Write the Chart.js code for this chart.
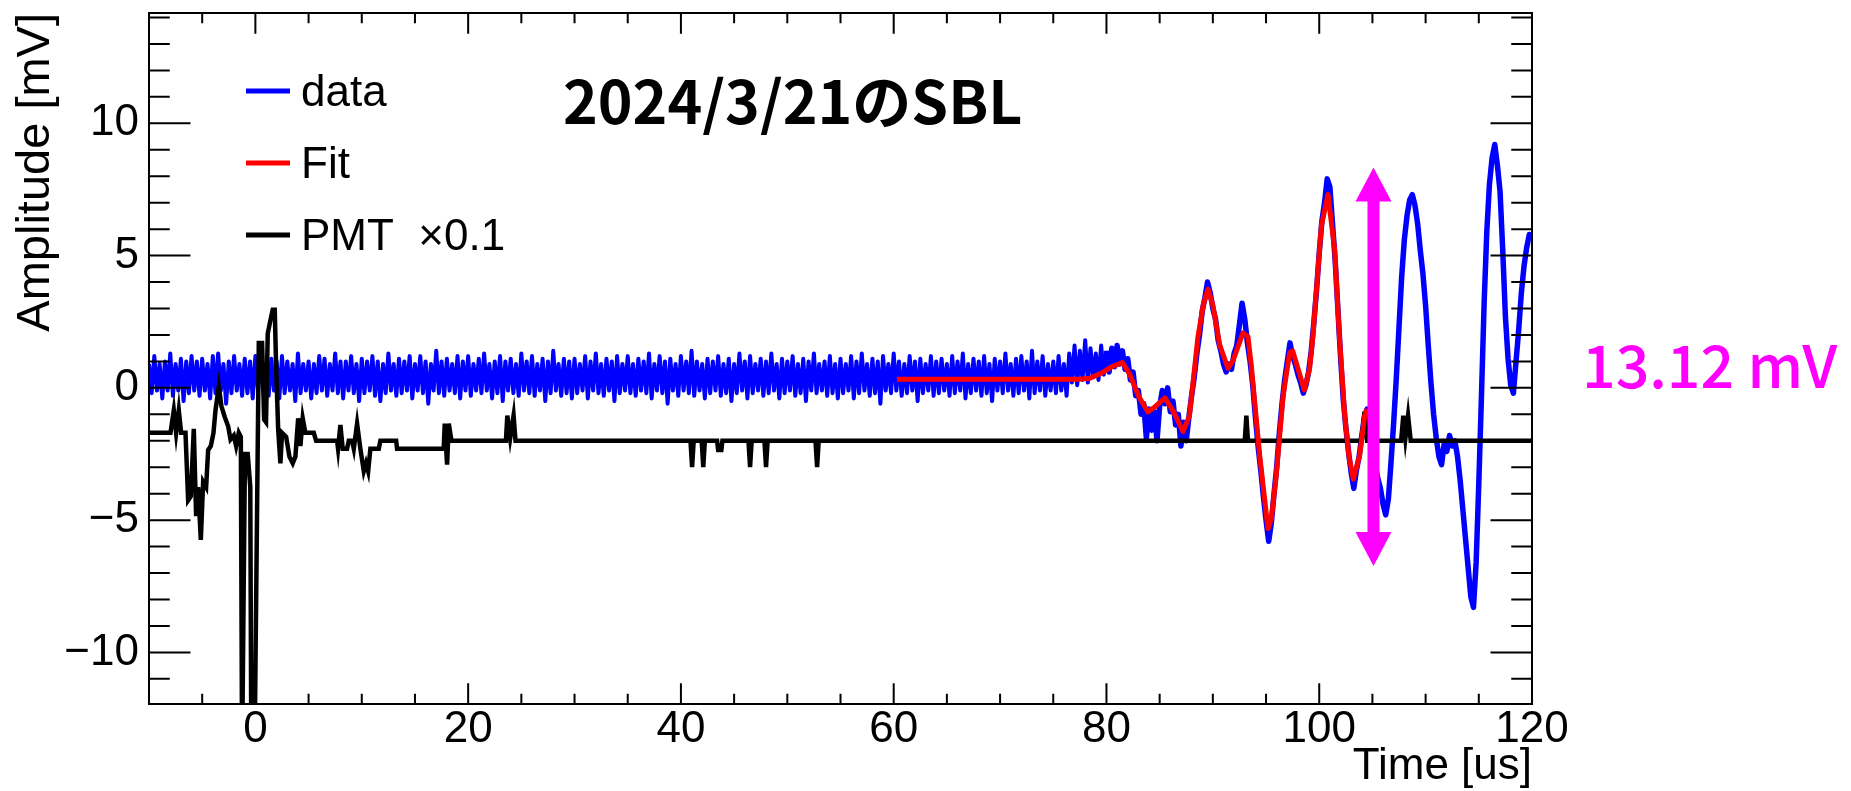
<!DOCTYPE html>
<html>
<head>
<meta charset="utf-8">
<title>2024/3/21のSBL</title>
<script src="https://cdn.jsdelivr.net/npm/chart.js@4.4.1/dist/chart.umd.min.js"></script>
<style>
  html, body { margin: 0; padding: 0; background: #fff; }
  #wrap { width: 1851px; height: 791px; }
</style>
</head>
<body>
<div id="wrap"><canvas id="sbl-chart" width="1851" height="791"></canvas></div>
<script>
// SBL waveform with fit and PMT trigger, 2024/3/21

const fontSans = '"Liberation Sans", Arial, Helvetica, sans-serif';
const fontJp = '"Noto Sans CJK JP", "Noto Sans CJK SC", sans-serif';

// Axis ranges and ticks
const xRange = [-10, 120];
const yRange = [-11.95, 14.17];
const xMajorTicks = [0, 20, 40, 60, 80, 100, 120];
const yMajorTicks = [-10, -5, 0, 5, 10];
const xMinorStep = 5;
const yMinorStep = 1;

// Blue trace, one sample every 0.25 us starting at -10 us
const dataStart = -10;
const dataStep = 0.25;
const dataAmp = [
    0.9,-0.2,1.2,-0.1,0.9,-0.4,1.0,-0.1,1.3,-0.3,0.9,-0.1,1.1,-0.5,1.0,-0.2,1.2,-0.1,1.0,-0.3,   // -10
    1.1,-0.1,0.9,-0.4,1.2,-0.2,1.3,-0.1,0.9,-0.6,1.0,-0.2,1.2,-0.1,0.9,-0.3,1.1,-0.2,1.0,-0.4,   // -5
    1.2,-0.1,1.4,-0.2,0.9,-0.3,1.1,-0.1,1.0,-0.4,1.2,-0.2,1.0,-0.1,0.9,-0.5,1.3,-0.2,0.9,-0.1,   // 0
    1.0,-0.4,0.9,-0.2,1.2,-0.1,1.1,-0.3,0.9,-0.1,1.3,-0.2,1.0,-0.4,1.0,-0.1,1.2,-0.2,0.9,-0.5,   // 5
    1.1,-0.2,1.0,-0.1,1.2,-0.3,1.0,-0.5,0.9,-0.2,1.3,-0.1,0.9,-0.3,1.1,-0.2,1.0,-0.1,1.2,-0.4,   // 10
    0.9,-0.1,1.2,-0.2,1.0,-0.6,0.9,-0.1,1.4,-0.2,1.0,-0.3,1.1,-0.1,0.9,-0.2,1.2,-0.4,1.0,-0.1,   // 15
    1.2,-0.3,0.9,-0.1,1.1,-0.2,1.3,-0.1,0.9,-0.4,1.0,-0.2,1.2,-0.5,1.0,-0.1,1.1,-0.2,0.9,-0.3,   // 20
    1.3,-0.1,1.0,-0.2,1.2,-0.3,0.9,-0.1,1.1,-0.5,1.0,-0.2,1.4,-0.1,0.9,-0.3,1.1,-0.2,1.0,-0.4,   // 25
    1.1,-0.2,0.9,-0.1,1.2,-0.4,1.0,-0.1,1.3,-0.2,0.9,-0.3,1.1,-0.1,1.0,-0.5,1.2,-0.2,0.9,-0.1,   // 30
    1.2,-0.2,0.9,-0.3,1.1,-0.1,1.0,-0.2,1.3,-0.4,0.9,-0.1,1.2,-0.2,1.0,-0.6,1.1,-0.1,0.9,-0.3,   // 35
    1.2,-0.1,1.0,-0.2,1.4,-0.3,1.0,-0.1,0.9,-0.4,1.1,-0.2,1.0,-0.1,1.2,-0.3,0.9,-0.2,1.1,-0.5,   // 40
    0.9,-0.2,1.3,-0.1,1.0,-0.4,1.2,-0.2,0.9,-0.1,1.1,-0.3,1.0,-0.2,1.3,-0.1,0.9,-0.4,1.1,-0.2,   // 45
    1.0,-0.1,1.2,-0.3,0.9,-0.2,1.1,-0.5,1.0,-0.1,1.3,-0.2,0.9,-0.1,1.0,-0.3,1.2,-0.2,0.9,-0.4,   // 50
    1.1,-0.2,0.9,-0.1,1.2,-0.4,1.0,-0.2,1.3,-0.1,0.9,-0.3,1.1,-0.2,1.0,-0.6,1.2,-0.1,0.9,-0.2,   // 55
    1.3,-0.1,1.0,-0.3,0.9,-0.2,1.2,-0.1,1.0,-0.5,1.1,-0.2,0.9,-0.1,1.2,-0.3,1.0,-0.2,1.1,-0.1,   // 60
    0.9,-0.3,1.2,-0.2,1.0,-0.1,1.3,-0.4,0.9,-0.2,1.1,-0.1,1.0,-0.3,1.2,-0.2,0.9,-0.5,1.1,-0.1,   // 65
    1.0,-0.2,1.3,-0.1,0.9,-0.3,1.1,-0.2,1.2,-0.1,1.0,-0.4,1.4,-0.2,1.0,-0.1,1.2,-0.3,0.9,-0.1,   // 70
    1.0,-0.2,1.2,-0.1,0.9,-0.3,1.3,0.2,1.6,0.1,1.4,0.3,1.8,0.2,1.5,0.4,1.3,0.3,1.6,0.5,        // 75
    1.4,0.6,1.5,0.8,1.6,0.9,1.4,0.7,1.1,0.3,0.6,-0.3,-0.1,-1.0,-0.6,-1.9,-0.8,-1.6,-0.9,-2.0, // 80
    -0.7,-0.1,-0.6,0.0,-0.9,-0.5,-1.4,-1.0,-2.2,-1.3,-2.0,-1.1,-0.3,0.4,1.3,2.0,2.9,3.4,4.0,3.6, // 85
    3.0,2.6,1.8,1.4,0.9,0.6,0.9,0.7,1.3,1.6,2.4,3.2,2.6,1.7,1.0,0.1,-1.1,-2.2,-3.1,-4.1,   // 90
    -5.0,-5.8,-5.1,-4.0,-3.0,-1.7,-0.6,0.3,1.0,1.7,1.2,0.9,0.5,0.2,-0.2,0.1,0.6,1.4,2.5,3.7, // 95
    5.1,6.3,7.0,7.9,7.6,6.2,4.8,3.0,1.2,-0.4,-1.5,-2.4,-3.2,-3.8,-3.1,-2.6,-1.8,-1.1,-0.8,-1.5, // 100
    -2.3,-2.9,-3.4,-3.8,-4.4,-4.8,-4.2,-2.8,-1.3,0.4,2.3,4.2,5.6,6.5,7.1,7.3,6.9,6.2,5.2,4.3, // 105
    3.1,1.6,0.2,-1.0,-1.9,-2.6,-2.9,-2.1,-2.4,-1.8,-2.2,-2.0,-2.6,-3.5,-4.6,-5.7,-6.8,-7.9,-8.3,-6.6, // 110
    -3.6,-0.3,3.2,5.9,7.7,8.7,9.2,8.4,7.4,5.2,2.7,1.1,0.1,-0.2,1.0,2.2,3.6,4.6,5.3,5.8,    // 115
    5.6                                                                                    // 120
];

// Fit curve
const fitTime = [60.3, 77.5, 78.4, 79.5, 80.5, 81.5, 82.2, 83.0, 83.9, 84.6, 85.5, 86.3, 87.2, 87.8,
    88.6, 89.1, 89.54, 90.0, 90.64, 91.42, 91.9, 92.83, 93.3, 93.6, 94.4, 95.18, 95.5, 95.96, 96.6,
    97.22, 97.5, 98.6, 99.1, 99.4, 100.2, 100.82, 101.45, 101.9, 102.4, 102.8, 103.2, 103.8, 104.27, 104.5];
const fitAmp = [0.33, 0.33, 0.36, 0.55, 0.8, 0.96, 0.5, -0.3, -0.91, -0.7, -0.38, -0.9, -1.65, -1.06,
    1.93, 3.13, 3.73, 3.13, 1.63, 0.74, 1.04, 2.08, 1.93, 0.89, -2.55, -5.32, -4.94, -3.3, -0.31,
    1.33, 1.4, -0.08, 0.74, 1.93, 6.12, 7.31, 5.22, 1.93, -1.06, -2.6, -3.45, -2.55, -1.06, -0.8];

// PMT signal scaled by 0.1
const pmtTime = [-10, -7.98, -7.67, -7.45, -7.2, -6.98, -6.57, -6.32, -6.07, -5.79, -5.57, -5.38, -5.13,
    -4.91, -4.63, -4.44, -4.19, -3.94, -3.75, -3.44, -3.19, -2.88, -2.56, -2.34, -2.03, -1.81, -1.56,
    -1.37, -1.25, -0.98, -0.72, -0.48, -0.38, -0.08, 0.32, 0.63, 0.82, 1.0, 1.16, 1.41, 1.63, 1.82,
    1.95, 2.14, 2.35, 2.51, 2.89, 3.2, 3.51, 3.76, 4.02, 4.23, 4.45, 4.7, 5.49, 5.71, 7.68, 7.77, 7.99,
    8.21, 8.62, 8.78, 9.09, 9.25, 9.56, 9.87, 10.19, 10.4, 10.6, 10.81, 11.6, 11.75, 13.23, 13.32,
    17.7, 17.8, 18.02, 18.18, 18.43, 23.55, 23.68, 23.95, 24.27, 24.45, 40.9, 41.05, 41.2, 41.95,
    42.1, 42.25, 43.4, 43.5, 43.8, 43.9, 46.35, 46.5, 46.65, 47.85, 48.0, 48.15, 52.65, 52.8, 52.95,
    93.0, 93.15, 93.3, 104.0, 104.25, 104.5, 107.7, 107.9, 108.1, 108.35, 108.6, 120];
const pmtAmp = [-1.7, -1.7, -0.85, -1.7, -0.85, -1.7, -1.7, -4.25, -4.1, -1.55, -4.85, -3.75, -5.75,
    -3.55, -3.75, -2.35, -2.2, -1.7, -0.85, 0.05, -0.7, -1.1, -1.45, -1.95, -1.8, -2.2, -1.7,
    -1.85, -14, -2.5, -2.5, -3.75, -14, -14, 1.7, 1.7, -1.2, -1.3, 2.05, 2.55, 2.95, 2.95,
    0.8, -1.55, -2.85, -1.7, -1.85, -2.6, -2.85, -2.6, -1.15, -2.2, -1.15, -1.7, -1.7, -2.0, -2.0, -2.3, -1.4,
    -2.3, -2.3, -2.0, -2.0, -2.3, -1.35, -2.3, -3.15, -2.85, -3.15, -2.3, -2.3, -2.0, -2.0, -2.3,
    -2.3, -1.35, -2.9, -1.35, -2.0, -2.0, -1.05, -1.9, -1.05, -2.0, -2.0, -3.0, -2.0, -2.0,
    -3.0, -2.0, -2.0, -2.35, -2.35, -2.0, -2.0, -3.0, -2.0, -2.0, -3.0, -2.0, -2.0, -3.0, -2.0,
    -2.0, -1.05, -2.0, -2.0, -0.9, -2.0, -2.0, -1.05, -1.9, -1.05, -2.0, -2.0];

// Peak-to-peak marker
const ampText = '13.12 mV';
const arrowTime = 105.1;
const arrowHigh = 8.33;
const arrowLow = -6.73;

const titleText = '2024/3/21のSBL';

function toPoints(xs, ys) {
    return ys.map((v, i) => ({ x: xs[i], y: v }));
}

function fmtTick(v) {
    return v < 0 ? '\u2212' + Math.abs(v) : String(v);
}

// ROOT style frame with inward ticks on all four sides
const rootFrame = {
    id: 'rootFrame',
    afterDatasetsDraw(chart) {
        const { ctx, chartArea: a, scales: { x, y } } = chart;
        const w = a.right - a.left;
        const h = a.bottom - a.top;
        ctx.save();
        ctx.strokeStyle = '#000';
        ctx.lineWidth = 2;
        ctx.strokeRect(a.left, a.top, w, h);
        ctx.beginPath();
        const nx = Math.round((xRange[1] - xRange[0]) / xMinorStep);
        for (let i = 0; i <= nx; i++) {
            const v = xRange[0] + i * xMinorStep;
            const px = x.getPixelForValue(v);
            const len = xMajorTicks.includes(v) ? h * 0.03 : h * 0.015;
            ctx.moveTo(px, a.bottom); ctx.lineTo(px, a.bottom - len);
            ctx.moveTo(px, a.top); ctx.lineTo(px, a.top + len);
        }
        for (let v = Math.ceil(yRange[0]); v <= yRange[1]; v += yMinorStep) {
            const py = y.getPixelForValue(v);
            const len = yMajorTicks.includes(v) ? w * 0.03 : w * 0.015;
            ctx.moveTo(a.left, py); ctx.lineTo(a.left + len, py);
            ctx.moveTo(a.right, py); ctx.lineTo(a.right - len, py);
        }
        ctx.stroke();
        ctx.restore();
    }
};

// Legend, title, amplitude arrow and label
const annotations = {
    id: 'annotations',
    afterDraw(chart) {
        const { ctx, chartArea: a, scales: { x, y } } = chart;
        ctx.save();

        // legend inside the frame
        ctx.font = '44px ' + fontSans;
        ctx.textAlign = 'left';
        ctx.textBaseline = 'alphabetic';
        chart.data.datasets.forEach((ds, i) => {
            const ly = a.top + 78 + i * 72;
            ctx.strokeStyle = ds.borderColor;
            ctx.lineWidth = 5;
            ctx.beginPath();
            ctx.moveTo(a.left + 97, ly);
            ctx.lineTo(a.left + 141, ly);
            ctx.stroke();
            ctx.fillStyle = '#000';
            ctx.fillText(ds.label, a.left + 152, ly + 15);
        });

        // title
        ctx.font = 'bold 59px ' + fontJp;
        ctx.fillText(titleText, a.left + 414, a.top + 111);

        // double arrow
        const xa = x.getPixelForValue(arrowTime);
        const yt = y.getPixelForValue(arrowHigh);
        const yb = y.getPixelForValue(arrowLow);
        const headLen = 34, headHalf = 18, shaft = 12;
        ctx.fillStyle = '#ff00ff';
        ctx.fillRect(xa - shaft / 2, yt + headLen - 1, shaft, yb - yt - 2 * headLen + 2);
        ctx.beginPath();
        ctx.moveTo(xa, yt);
        ctx.lineTo(xa - headHalf, yt + headLen);
        ctx.lineTo(xa + headHalf, yt + headLen);
        ctx.closePath();
        ctx.moveTo(xa, yb);
        ctx.lineTo(xa - headHalf, yb - headLen);
        ctx.lineTo(xa + headHalf, yb - headLen);
        ctx.closePath();
        ctx.fill();

        // amplitude label, baseline on the zero line
        ctx.font = '500 59px ' + fontJp;
        ctx.fillText(ampText, a.right + 50, y.getPixelForValue(0));
        ctx.restore();
    }
};

const ctx = document.getElementById('sbl-chart');

new Chart(ctx, {
    type: 'line',
    data: {
        datasets: [{
            label: 'data',
            data: dataAmp.map((v, i) => ({ x: dataStart + i * dataStep, y: v })),
            borderColor: '#0000ff',
            borderWidth: 4,
            borderJoinStyle: 'round',
            segment: {
                borderWidth: c => (c.p0.parsed.x >= 80 ? 5.5 : 4)
            },
            pointRadius: 0,
            tension: 0,
            order: 3
        }, {
            label: 'Fit',
            data: toPoints(fitTime, fitAmp),
            borderColor: '#ff0000',
            borderWidth: 5,
            borderJoinStyle: 'round',
            pointRadius: 0,
            tension: 0,
            order: 1
        }, {
            label: 'PMT  \u00d70.1',
            data: toPoints(pmtTime, pmtAmp),
            borderColor: '#000000',
            borderWidth: 4.5,
            borderJoinStyle: 'miter',
            pointRadius: 0,
            tension: 0,
            order: 2
        }]
    },
    options: {
        responsive: false,
        animation: false,
        events: [],
        layout: { padding: { left: 0, top: 13, right: 319, bottom: 0 } },
        plugins: {
            legend: { display: false },
            tooltip: { enabled: false }
        },
        scales: {
            x: {
                type: 'linear',
                position: 'bottom',
                min: xRange[0],
                max: xRange[1],
                afterBuildTicks: s => { s.ticks = xMajorTicks.map(v => ({ value: v })); },
                afterFit: s => { s.height = 87; s.paddingLeft = 0; s.paddingRight = 0; },
                grid: { display: false, drawTicks: false, tickLength: 0 },
                border: { display: false },
                ticks: {
                    autoSkip: false,
                    maxRotation: 0,
                    padding: 4,
                    color: '#000',
                    font: { family: fontSans, size: 44, lineHeight: 1 },
                    callback: v => fmtTick(v)
                },
                title: {
                    display: true,
                    text: 'Time [us]',
                    align: 'end',
                    color: '#000',
                    font: { family: fontSans, size: 44, lineHeight: 1 },
                    padding: { top: 0, bottom: 2 }
                }
            },
            y: {
                min: yRange[0],
                max: yRange[1],
                afterBuildTicks: s => { s.ticks = yMajorTicks.map(v => ({ value: v })); },
                afterFit: s => { s.width = 149; s.paddingTop = 0; s.paddingBottom = 0; },
                grid: { display: false, drawTicks: false, tickLength: 0 },
                border: { display: false },
                ticks: {
                    padding: 10,
                    color: '#000',
                    font: { family: fontSans, size: 44, lineHeight: 1 },
                    callback: v => fmtTick(v)
                },
                title: {
                    display: true,
                    text: 'Amplitude [mV]',
                    align: 'end',
                    color: '#000',
                    font: { family: fontSans, size: 47, lineHeight: 1 },
                    padding: { top: 13, bottom: 0 }
                }
            }
        }
    },
    plugins: [rootFrame, annotations]
});
</script>
</body>
</html>
